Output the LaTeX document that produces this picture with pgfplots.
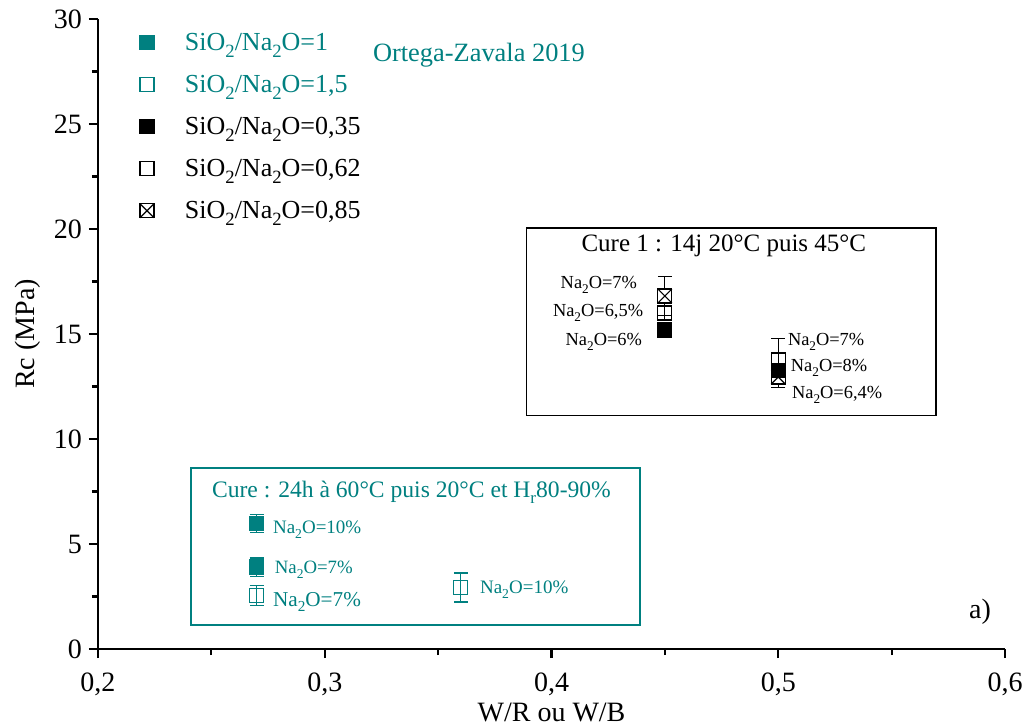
\documentclass[border=0pt]{standalone}
\usepackage{pgfplots}
\pgfplotsset{compat=1.18}
\usepackage{fontspec}
\setmainfont{Liberation Serif}
\definecolor{teal0}{HTML}{008080}
\pgfdeclareplotmark{xsquare}{%
 \pgfpathrectangle{\pgfqpoint{-\pgfplotmarksize}{-\pgfplotmarksize}}{\pgfqpoint{2\pgfplotmarksize}{2\pgfplotmarksize}}%
 \pgfusepathqfillstroke
 \pgfpathmoveto{\pgfqpoint{-\pgfplotmarksize}{-\pgfplotmarksize}}\pgfpathlineto{\pgfqpoint{\pgfplotmarksize}{\pgfplotmarksize}}%
 \pgfpathmoveto{\pgfqpoint{-\pgfplotmarksize}{\pgfplotmarksize}}\pgfpathlineto{\pgfqpoint{\pgfplotmarksize}{-\pgfplotmarksize}}%
 \pgfusepathqstroke}
\tikzset{ann/.style={inner sep=0pt, outer sep=0pt}}
\newcommand{\fs}[1]{\fontsize{#1}{#1}\selectfont}
\newcommand{\sub}[1]{\raisebox{-0.55ex}{\scalebox{0.72}{#1}}}
\newcommand{\NaO}{Na\sub{2}O}
\begin{document}
\begin{tikzpicture}
\useasboundingbox (-49bp,-39.5bp) rectangle (462bp,324.5bp);
\begin{axis}[
 at={(0,0)}, anchor=south west,
 scale only axis, width=453.5bp, height=315bp,
 xmin=0.2, xmax=0.6, ymin=0, ymax=30,
 clip=false,
 axis x line*=bottom, axis y line*=left,
 axis line style={line width=1.1bp, -},
 tick align=outside,
 major tick length=4.5bp, minor tick length=3bp,
 every tick/.style={line width=1.1bp, black},
 xtick={0.2,0.3,0.4,0.5,0.6}, minor xtick={0.25,0.35,0.45,0.55},
 ytick={0,5,10,15,20,25,30}, minor ytick={2.5,7.5,12.5,17.5,22.5,27.5},
 /pgf/number format/assume math mode=true,
 xticklabel style={yshift=-4bp, /pgf/number format/.cd, fixed, fixed zerofill, precision=1, use comma},
 tick label style={font=\fs{14bp}},
 xlabel={W/R ou W/B}, ylabel={Rc (MPa)},
 label style={font=\fs{14bp}},
 xlabel style={at={(axis description cs:0.5,-0.101)}, anchor=center},
 ylabel style={at={(axis description cs:-0.0772,0.5)}, anchor=center},
 error bars/y dir=both, error bars/y explicit,
 error bars/error bar style={line width=0.6bp},
 error bars/error mark options={line width=0.6bp, mark size=3.5bp, rotate=90},
 legend image code/.code={\draw[#1] plot coordinates {(0bp,0.9bp)};},
 legend style={draw=none, fill=none, at={(axis cs:0.2185,29.45)}, anchor=north west,
   inner sep=0pt, outer sep=0pt, row sep=7bp, column sep=15.5bp,
   font=\fs{13bp}, nodes={inner sep=0pt, text height=10bp, text depth=4bp}},
 legend cell align=left,
]
% teal filled SiO2/Na2O=1
\addplot[only marks, mark=square*, mark size=3.5bp, teal0, line width=0.6bp, mark options={fill=teal0}]
 table[x=x, y=y, y error=e] {
x y e
0.27 5.96 0.43
0.27 3.90 0.43
};
\addlegendentry{\textcolor{teal0}{SiO\sub{2}/\NaO=1}}
% teal open SiO2/Na2O=1,5
\addplot[only marks, mark=square, mark size=3.5bp, teal0, line width=0.6bp, mark options={fill=white}]
 table[x=x, y=y, y error=e] {
x y e
0.27 2.55 0.47
0.36 2.93 0.69
};
\addlegendentry{\textcolor{teal0}{SiO\sub{2}/\NaO=1,5}}
% hidden crossed at 0.5
\addplot[forget plot, only marks, mark=xsquare, mark size=3.5bp, black, line width=0.6bp, mark options={fill=white}]
 table[x=x, y=y, y error=e] {
x y e
0.50 12.95 0.5
};
% black filled 0.35
\addplot[only marks, mark=square*, mark size=3.5bp, black, line width=0.6bp, mark options={fill=black}]
 table[x=x, y=y, y error=e] {
x y e
0.45 15.19 0.2
0.50 13.25 0.3
};
\addlegendentry{SiO\sub{2}/\NaO=0,35}
% black open 0.62
\addplot[only marks, mark=square, mark size=3.5bp, black, line width=0.6bp, mark options={fill=white}]
 table[x=x, y=y, y error=e] {
x y e
0.45 16.00 0.35
0.50 13.76 1.04
};
\addlegendentry{SiO\sub{2}/\NaO=0,62}
% crossed 0.85
\addplot[only marks, mark=xsquare, mark size=3.5bp, black, line width=0.6bp, mark options={fill=white}]
 table[x=x, y=y, y error=e] {
x y e
0.45 16.81 0.92
};
\addlegendentry{SiO\sub{2}/\NaO=0,85}

% annotation boxes
\draw[black, line width=0.6bp] (axis cs:0.3888,11.1) rectangle (axis cs:0.5696,20.05);
\draw[teal0, line width=0.6bp] (axis cs:0.241,1.14) rectangle (axis cs:0.439,8.62);

\node[ann, text=teal0, font=\fs{13.2bp}] at (axis cs:0.368,28.29) {Ortega-Zavala 2019};
\node[ann, font=\fs{12.5bp}] at (axis cs:0.476,19.19) {Cure 1 : 14j 20°C puis 45°C};
\node[ann, text=teal0, font=\fs{11.8bp}, anchor=west] at (axis cs:0.2503,7.48) {Cure : 24h à 60°C puis 20°C et H\sub{r}80-90\%};

\node[ann, font=\fs{9.2bp}, anchor=east] at (axis cs:0.4377,17.33) {\NaO=7\%};
\node[ann, font=\fs{9.2bp}, anchor=east] at (axis cs:0.4404,16.0) {\NaO=6,5\%};
\node[ann, font=\fs{9.2bp}, anchor=east] at (axis cs:0.4399,14.62) {\NaO=6\%};
\node[ann, font=\fs{9.2bp}, anchor=west] at (axis cs:0.5043,14.62) {\NaO=7\%};
\node[ann, font=\fs{9.2bp}, anchor=west] at (axis cs:0.5056,13.38) {\NaO=8\%};
\node[ann, font=\fs{9.2bp}, anchor=west] at (axis cs:0.5061,12.1) {\NaO=6,4\%};

\node[ann, text=teal0, font=\fs{9.5bp}, anchor=west] at (axis cs:0.2772,5.67) {\NaO=10\%};
\node[ann, text=teal0, font=\fs{9.4bp}, anchor=west] at (axis cs:0.278,3.76) {\NaO=7\%};
\node[ann, text=teal0, font=\fs{10.6bp}, anchor=west] at (axis cs:0.2772,2.24) {\NaO=7\%};
\node[ann, text=teal0, font=\fs{9.5bp}, anchor=west] at (axis cs:0.3685,2.81) {\NaO=10\%};

\node[ann, font=\fs{14bp}] at (axis cs:0.589,1.76) {a)};
\end{axis}
\end{tikzpicture}
\end{document}
